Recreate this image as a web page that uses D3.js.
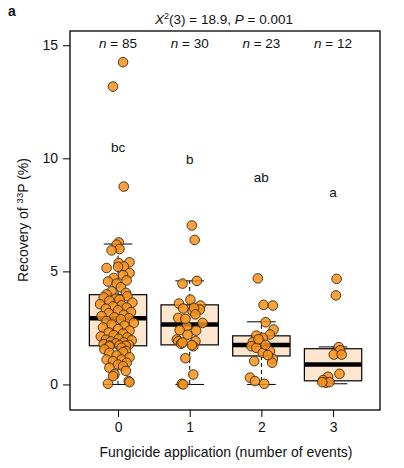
<!DOCTYPE html>
<html>
<head>
<meta charset="utf-8">
<script src="https://cdn.jsdelivr.net/npm/d3@7"></script>
<style>
  body { margin: 0; background: #fff; }
  text { font-family: "Liberation Sans", Arial, sans-serif; fill: #111; }
</style>
</head>
<body>
<svg class="chart"></svg>
<script>
// categories and annotations
var groups = [0, 1, 2, 3];
var counts = [85, 30, 23, 12];
var letters = ["bc", "b", "ab", "a"];
var letterY = [10.3, 9.75, 8.95, 8.3];
var yTicks = [0, 5, 10, 15];

// box statistics
var q1 = [1.71, 1.75, 1.26, 0.16];
var median = [2.93, 2.65, 1.74, 0.88];
var q3 = [3.97, 3.52, 2.15, 1.58];
var whiskerLo = [0, 0, 0, 0.03];
var whiskerHi = [6.21, 4.58, 2.77, 1.66];

// recovery values per group and their horizontal jitter (in group units)
var recovery = [
  [14.25, 13.17, 8.75,
   6.28, 6.18, 5.99, 5.93, 5.40, 5.37, 5.22, 5.20, 5.15, 4.93, 4.83, 4.71, 4.55, 4.46, 4.30, 4.12, 4.05, 3.98, 4.60,
   3.90, 3.85, 3.80, 3.75, 3.70, 3.62, 3.55, 3.50, 3.45, 3.40, 3.35, 3.28, 3.20, 3.15, 3.08, 3.02, 2.97, 2.93, 2.88, 2.80,
   2.72, 2.65, 2.60, 2.52, 2.45, 2.38, 2.30, 2.25, 2.18, 2.12, 2.08, 2.02, 1.98, 1.95, 1.90, 1.86, 1.82, 1.78, 1.75, 1.73,
   1.72, 1.71,
   1.68, 1.62, 1.55, 1.48, 1.43, 1.40, 1.28, 1.20, 1.10, 1.10, 1.03, 0.96, 0.88, 0.81, 0.74, 0.60, 0.45, 0.37, 0.15, 0.03, 0.10],
  [7.03, 6.39, 4.46, 4.58, 3.75, 3.58, 3.36, 3.24, 3.49, 3.31, 3.39, 2.94, 2.72, 2.57, 2.40, 2.38, 1.99, 1.91, 1.80, 1.91,
   1.69, 1.74, 1.16, 0.44, 0.03, 0.00, 2.90, 3.10, 2.20, 1.85],
  [4.69, 3.52, 3.49, 2.75, 2.43, 2.16, 2.21, 2.06, 1.87, 1.87, 1.69, 1.62, 1.47, 1.40, 1.13, 0.96, 1.03, 0.30, 0.15, 0.03,
   1.30, 1.75, 2.00],
  [4.67, 3.94, 1.65, 1.51, 1.32, 1.32, 0.47, 0.34, 0.19, 0.08, 0.10, 0.10]
];
var jitter = [
  [0.07, -0.07, 0.08,
   0.01, -0.02, 0.02, -0.09, 0.16, 0.01, 0.08, 0.00, -0.16, 0.16, 0.07, -0.06, -0.14, -0.02, 0.04, -0.09, 0.11, -0.16, 0.12,
   0.13, -0.20, -0.03, 0.02, -0.12, 0.20, -0.25, 0.05, -0.07, 0.12, -0.17, 0.00, 0.18, -0.13, 0.08, -0.23, -0.05, 0.15, 0.04, -0.16,
   0.22, -0.09, 0.09, -0.21, 0.00, 0.16, -0.13, 0.07, -0.06, -0.24, 0.13, 0.01, -0.17, 0.19, -0.10, 0.08, -0.03, -0.20, 0.15, 0.02,
   -0.12, 0.11,
   -0.12, 0.05, -0.19, 0.11, 0.07, -0.12, -0.02, 0.16, -0.16, 0.05, -0.07, 0.12, 0.00, 0.07, -0.12, 0.11, -0.05, -0.07, 0.15, -0.14, 0.16],
  [0.03, 0.07, -0.10, 0.10, 0.01, -0.15, -0.09, 0.04, 0.15, 0.14, 0.06, -0.16, 0.18, -0.04, -0.14, 0.09, -0.18, -0.16, -0.12, 0.08,
   0.05, 0.03, -0.06, 0.05, -0.11, -0.09, -0.06, 0.08, -0.03, -0.10],
  [-0.05, 0.03, 0.16, 0.06, 0.17, -0.07, 0.12, 0.02, -0.12, -0.02, -0.14, -0.07, 0.12, 0.02, 0.16, 0.15, -0.10, -0.16, -0.09, 0.04,
   0.09, 0.06, -0.04],
  [0.05, 0.04, 0.08, 0.10, 0.01, 0.12, 0.09, -0.07, -0.14, -0.10, -0.05, -0.15]
];

var margin = {top: 31, right: 24, bottom: 58, left: 70},
    width = 404 - margin.left - margin.right,
    height = 468 - margin.top - margin.bottom;

var svg = d3.select(".chart")
    .attr("width", 404)
    .attr("height", 468);

var g = svg.append("g")
    .attr("transform", "translate(" + margin.left + "," + margin.top + ")");

var x = d3.scaleLinear().domain([-0.67, 3.655]).range([0, width]);
var y = d3.scaleLinear().domain([-1.13, 15.63]).range([height, 0]);

var boxW = 0.8, capW = 0.4;

// AXES
var yAxis = d3.axisLeft(y).tickValues(yTicks).tickSize(7).tickPadding(5);
var xAxis = d3.axisBottom(x).tickValues(groups).tickFormat(d3.format("d")).tickSize(7).tickPadding(5);

g.append("g").attr("class", "axis").call(yAxis);
g.append("g").attr("class", "axis")
    .attr("transform", "translate(0," + height + ")")
    .call(xAxis);
g.selectAll(".axis .domain").remove();
g.selectAll(".axis line").attr("stroke", "#000").attr("stroke-width", 1);
g.selectAll(".axis text")
    .style("font-size", "14px")
    .style("font-family", "Liberation Sans, Arial, sans-serif")
    .attr("fill", "#111");

// WHISKERS
var bg = g.selectAll(".box").data(groups).enter().append("g").attr("class", "box");

bg.append("line")
    .attr("x1", function(d) { return x(d); })
    .attr("x2", function(d) { return x(d); })
    .attr("y1", function(d) { return y(q3[d]); })
    .attr("y2", function(d) { return y(whiskerHi[d]); })
    .attr("stroke", "#000").attr("stroke-dasharray", "4,3");
bg.append("line")
    .attr("x1", function(d) { return x(d); })
    .attr("x2", function(d) { return x(d); })
    .attr("y1", function(d) { return y(q1[d]); })
    .attr("y2", function(d) { return y(whiskerLo[d]); })
    .attr("stroke", "#000").attr("stroke-dasharray", "4,3");
bg.append("line")
    .attr("x1", function(d) { return x(d - capW / 2); })
    .attr("x2", function(d) { return x(d + capW / 2); })
    .attr("y1", function(d) { return y(whiskerHi[d]); })
    .attr("y2", function(d) { return y(whiskerHi[d]); })
    .attr("stroke", "#000");
bg.append("line")
    .attr("x1", function(d) { return x(d - capW / 2); })
    .attr("x2", function(d) { return x(d + capW / 2); })
    .attr("y1", function(d) { return y(whiskerLo[d]); })
    .attr("y2", function(d) { return y(whiskerLo[d]); })
    .attr("stroke", "#000");

// BOXES
bg.append("rect")
    .attr("x", function(d) { return x(d - boxW / 2); })
    .attr("width", function(d) { return x(boxW) - x(0); })
    .attr("y", function(d) { return y(q3[d]); })
    .attr("height", function(d) { return y(q1[d]) - y(q3[d]); })
    .attr("fill", "#fde6cf")
    .attr("stroke", "#000").attr("stroke-width", 1.2);

// POINTS
var pts = [];
recovery.forEach(function(vals, gi) {
  vals.forEach(function(v, i) { pts.push({g: gi, v: v, j: jitter[gi][i]}); });
});

g.selectAll(".pt").data(pts).enter().append("circle")
    .attr("class", "pt")
    .attr("cx", function(d) { return x(d.g + d.j); })
    .attr("cy", function(d) { return y(d.v); })
    .attr("r", 4.8)
    .attr("fill", "#f7921c")
    .attr("fill-opacity", 0.85)
    .attr("stroke", "#3a2a10")
    .attr("stroke-width", 0.9);

// MEDIANS on top
bg.append("line")
    .attr("x1", function(d) { return x(d - boxW / 2); })
    .attr("x2", function(d) { return x(d + boxW / 2); })
    .attr("y1", function(d) { return y(median[d]); })
    .attr("y2", function(d) { return y(median[d]); })
    .attr("stroke", "#000").attr("stroke-width", 4.5);

// FRAME
g.append("rect")
    .attr("width", width).attr("height", height)
    .attr("fill", "none").attr("stroke", "#000").attr("stroke-width", 1.3);

// n LABELS
var nl = g.selectAll(".nlab").data(groups).enter().append("text")
    .attr("class", "nlab")
    .attr("x", function(d) { return x(d); })
    .attr("y", 17)
    .attr("text-anchor", "middle")
    .style("font-size", "13.5px");
nl.append("tspan").style("font-style", "italic").text("n");
nl.append("tspan").text(function(d) { return " = " + counts[d]; });

// LETTERS
g.selectAll(".let").data(groups).enter().append("text")
    .attr("x", function(d) { return x(d); })
    .attr("y", function(d) { return y(letterY[d]); })
    .attr("text-anchor", "middle")
    .style("font-size", "13.5px")
    .text(function(d) { return letters[d]; });

// TITLE
var title = svg.append("text")
    .attr("x", 224).attr("y", 24)
    .attr("text-anchor", "middle")
    .style("font-size", "13.5px");
title.append("tspan").style("font-style", "italic").text("X");
title.append("tspan").attr("dy", -5).style("font-size", "9px").text("2");
title.append("tspan").attr("dy", 5).text("(3) = 18.9, ");
title.append("tspan").style("font-style", "italic").text("P");
title.append("tspan").text(" = 0.001");

// PANEL LETTER
svg.append("text")
    .attr("x", 8).attr("y", 16)
    .style("font-size", "14px").style("font-weight", "bold")
    .text("a");

// AXIS LABELS
svg.append("text")
    .attr("x", 226).attr("y", 457)
    .attr("text-anchor", "middle")
    .style("font-size", "14px")
    .text("Fungicide application (number of events)");

var yl = svg.append("text")
    .attr("transform", "translate(28," + 220 + ") rotate(-90)")
    .attr("text-anchor", "middle")
    .style("font-size", "14px");
yl.append("tspan").text("Recovery of ");
yl.append("tspan").attr("dy", -5).style("font-size", "9.5px").text("33");
yl.append("tspan").attr("dy", 5).text("P (%)");
</script>
</body>
</html>
